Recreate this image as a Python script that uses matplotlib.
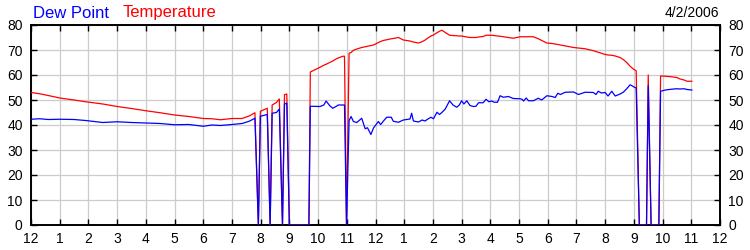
import matplotlib
matplotlib.use("Agg")
import matplotlib.pyplot as plt

hours = [0.0, 0.3, 0.6, 1.0, 1.5, 1.9, 2.5, 3.0, 3.5, 4.0, 4.5, 5.0, 5.5, 6.0, 6.3, 6.6, 7.0, 7.35, 7.6, 7.80,
         7.92, 7.99, 8.23, 8.33, 8.40, 8.55, 8.65, 8.76, 8.83, 8.91, 9.00, 9.68, 9.73, 10.07, 10.20, 10.28,
         10.40, 10.51, 10.64, 10.70, 10.86, 10.92, 10.99, 11.08, 11.15, 11.23, 11.35, 11.52, 11.64, 11.72,
         11.84, 11.93, 12.02, 12.10, 12.18, 12.27, 12.39, 12.55, 12.62, 12.80, 12.97, 13.20, 13.26, 13.32,
         13.50, 13.62, 13.73, 13.80, 13.93, 14.02, 14.14, 14.23, 14.31, 14.43, 14.58, 14.70, 14.83, 14.92,
         15.00, 15.08, 15.18, 15.29, 15.41, 15.50, 15.59, 15.75, 15.85, 15.95, 16.05, 16.13, 16.25, 16.34,
         16.45, 16.63, 16.80, 17.04, 17.10, 17.16, 17.25, 17.33, 17.50, 17.67, 17.79, 17.97, 18.15, 18.26,
         18.35, 18.44, 18.61, 18.90, 19.07, 19.30, 19.59, 19.68, 19.76, 19.87, 20.00, 20.10, 20.23, 20.35,
         20.52, 20.63, 20.75, 20.87, 20.99, 21.08, 21.19, 21.44, 21.50, 21.60, 21.87, 21.93, 22.10, 22.30,
         22.50, 22.61, 22.75, 22.85, 23.02]

temperature = [53.0, 52.5, 51.8, 50.8, 50.0, 49.3, 48.4, 47.4, 46.6, 45.7, 44.9, 44.0, 43.4, 42.6, 42.5, 42.1,
               42.6, 42.6, 43.6, 44.9,
               0, 45.5, 46.7, 0, 48.0, 49.0, 50.4, 0, 52.1, 52.4, 0, 0, 61.2, 63.1, 63.9, 64.3,
               65.0, 65.6, 66.5, 66.8, 67.5, 67.5, 0, 68.7, 69.0, 69.9, 70.4, 71.0, 71.3, 71.5,
               71.8, 72.0, 72.5, 73.0, 73.4, 73.8, 74.1, 74.5, 74.6, 75.0, 74.0, 73.6, 73.4, 73.2,
               72.8, 73.3, 74.0, 74.6, 75.6, 76.0, 76.9, 77.5, 77.9, 77.0, 75.9, 75.8, 75.7, 75.6,
               75.6, 75.4, 75.2, 75.0, 75.0, 75.0, 75.2, 75.4, 75.9, 75.9, 75.9, 75.8, 75.6, 75.5,
               75.3, 75.0, 74.7, 75.3, 75.3, 75.3, 75.3, 75.3, 75.3, 74.5, 73.8, 72.8, 72.6, 72.4,
               72.2, 72.0, 71.6, 71.0, 70.8, 70.5, 69.7, 69.4, 69.1, 68.7, 68.2, 68.0, 67.9, 67.6,
               67.0, 66.2, 65.0, 63.5, 62.3, 61.7, 0, 0, 60.0, 0, 0, 59.6, 59.5, 59.3,
               59.0, 58.4, 58.0, 57.5, 57.5]

dew_point = [42.3, 42.5, 42.2, 42.3, 42.2, 41.8, 41.0, 41.3, 41.0, 40.8, 40.6, 40.1, 40.2, 39.5, 40.0, 39.8,
             40.2, 40.6, 41.5, 42.7,
             0, 43.5, 44.2, 0, 44.7, 45.0, 46.4, 0, 48.4, 48.7, 0, 0, 47.5, 47.4, 48.0, 49.6,
             47.8, 46.7, 47.5, 48.0, 48.0, 48.0, 0, 41.8, 43.4, 41.4, 41.0, 42.7, 38.5, 38.9,
             36.2, 38.8, 40.2, 41.4, 40.2, 41.5, 43.1, 43.1, 41.5, 41.1, 42.0, 42.4, 44.7, 41.6,
             41.2, 42.0, 41.6, 42.2, 43.1, 42.5, 45.1, 44.2, 45.0, 46.4, 49.7, 48.0, 47.1, 48.0,
             49.7, 48.4, 49.7, 47.8, 47.4, 47.5, 48.9, 48.9, 50.3, 49.3, 49.6, 49.1, 49.1, 51.7,
             51.1, 51.4, 50.6, 50.5, 50.3, 49.6, 50.8, 49.7, 49.7, 50.7, 50.0, 51.7, 51.4, 51.0,
             52.7, 52.2, 53.1, 53.2, 52.2, 53.1, 53.0, 52.2, 53.5, 52.8, 53.0, 51.6, 53.5, 51.6,
             52.4, 53.1, 54.5, 56.1, 55.3, 54.8, 0, 0, 55.7, 0, 0, 53.5, 54.0, 54.3,
             54.5, 54.4, 54.5, 54.2, 54.0]

x_ticks = list(range(0, 25))
x_labels = ["12", "1", "2", "3", "4", "5", "6", "7", "8", "9", "10", "11",
            "12", "1", "2", "3", "4", "5", "6", "7", "8", "9", "10", "11", "12"]
y_ticks = list(range(0, 81, 10))

plt.rcParams['font.family'] = ['Liberation Sans', 'DejaVu Sans']

fig = plt.figure(figsize=(7.5, 2.5), dpi=100)
ax = fig.add_axes([31/750, 0.1, (720-31)/750, 0.8])

ax.plot(hours, temperature, color='#ff0000', lw=0.9, zorder=3)
ax.plot(hours, dew_point, color='#0000ff', lw=0.9, zorder=4)

ax.set_xlim(0, 24)
ax.set_ylim(0, 80)
ax.set_xticks(x_ticks)
ax.set_xticklabels(x_labels)
ax.set_yticks(y_ticks)
ax.grid(True, color='#cccccc', lw=0.9, zorder=0)
ax.set_axisbelow(True)
ax.tick_params(direction='in', length=4, width=1, top=True, right=True,
               labelright=True, labelsize=10, colors='black')
ax.tick_params(axis='x', pad=5)
ax.tick_params(axis='y', pad=6)
for s in ax.spines.values():
    s.set_linewidth(1.4)
    s.set_color('black')

fig.text(33/750, 1 - 13/250, "Dew Point", color='#0000ff', fontsize=12, va='center', ha='left')
fig.text(123/750, 1 - 13/250, "Temperature", color='#ff0000', fontsize=12, va='center', ha='left')
fig.text(719/750, 1 - 13/250, "4/2/2006", color='black', fontsize=10, va='center', ha='right')

fig.savefig("out.png", dpi=100)
